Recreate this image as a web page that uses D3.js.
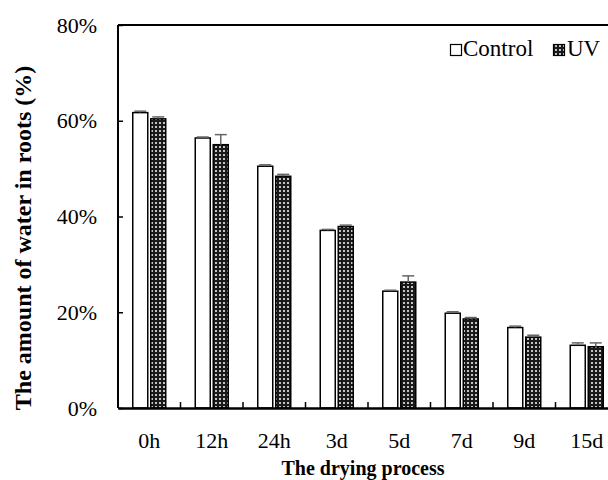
<!DOCTYPE html>
<html>
<head>
<meta charset="utf-8">
<script src="https://cdn.jsdelivr.net/npm/d3@7"></script>
<style>
  body { margin: 0; background: #fff; }
  svg text { font-family: "Liberation Serif", "Times New Roman", "DejaVu Serif", serif; fill: #000; }
</style>
</head>
<body>
<div id="chart"></div>
<script>
var categories = ["0h", "12h", "24h", "3d", "5d", "7d", "9d", "15d"];
var controlValues = [61.7, 56.4, 50.5, 37.1, 24.4, 19.8, 16.8, 13.1];
var controlErrors = [0.3, 0.2, 0.3, 0.2, 0.2, 0.3, 0.3, 0.5];
var uvValues = [60.4, 55.0, 48.4, 37.9, 26.3, 18.6, 14.8, 12.8];
var uvErrors = [0.4, 2.1, 0.4, 0.3, 1.3, 0.3, 0.4, 0.8];
var yTicks = [0, 20, 40, 60, 80];

var serif = "'Liberation Serif', 'Times New Roman', serif";
var W = 608, H = 480;
var margin = {top: 25, right: -10, bottom: 72, left: 118};
var width = W - margin.left - margin.right,
    height = H - margin.top - margin.bottom;

var svg = d3.select("#chart").append("svg")
    .attr("width", W)
    .attr("height", H)
    .attr("font-family", serif);

var defs = svg.append("defs");
var pat = defs.append("pattern")
    .attr("id", "dots")
    .attr("patternUnits", "userSpaceOnUse")
    .attr("width", 4)
    .attr("height", 4);
pat.append("rect").attr("width", 4).attr("height", 4).attr("fill", "#1a1a1a");
pat.append("rect").attr("x", 1).attr("y", 1).attr("width", 2).attr("height", 2).attr("fill", "#c4c4c4");

var g = svg.append("g")
    .attr("transform", "translate(" + margin.left + "," + margin.top + ")");

var x = d3.scaleBand().domain(categories).range([0, width]);
var y = d3.scaleLinear().domain([0, 80]).range([height, 0]);

var barW = 15, gap = 3;

// top border
g.append("line")
    .attr("x1", 0).attr("x2", width)
    .attr("y1", 0).attr("y2", 0)
    .attr("stroke", "#000").attr("stroke-width", 2);

var series = [
  {name: "Control", values: controlValues, errors: controlErrors, fill: "#fff", offset: -barW - gap / 2},
  {name: "UV", values: uvValues, errors: uvErrors, fill: "url(#dots)", offset: gap / 2}
];

series.forEach(function(s){
  var grp = g.append("g");
  var cx = function(d){ return x(d) + x.bandwidth() / 2 + s.offset + barW / 2; };

  grp.selectAll("rect")
      .data(categories)
    .enter().append("rect")
      .attr("x", function(d){ return cx(d) - barW / 2; })
      .attr("y", function(d, i){ return y(s.values[i]); })
      .attr("width", barW)
      .attr("height", function(d, i){ return height - y(s.values[i]); })
      .attr("fill", s.fill)
      .attr("stroke", "#000")
      .attr("stroke-width", 1.5);

  var err = grp.selectAll(".err")
      .data(categories)
    .enter().append("g");
  err.append("line")
      .attr("x1", cx).attr("x2", cx)
      .attr("y1", function(d, i){ return y(s.values[i]); })
      .attr("y2", function(d, i){ return y(s.values[i] + s.errors[i]); })
      .attr("stroke", "#666").attr("stroke-width", 1.5);
  err.append("line")
      .attr("x1", function(d){ return cx(d) - 6; })
      .attr("x2", function(d){ return cx(d) + 6; })
      .attr("y1", function(d, i){ return y(s.values[i] + s.errors[i]); })
      .attr("y2", function(d, i){ return y(s.values[i] + s.errors[i]); })
      .attr("stroke", "#666").attr("stroke-width", 1.5);
});

// y axis
var yAxis = g.append("g")
    .call(d3.axisLeft(y).tickValues(yTicks).tickSize(-5).tickPadding(21)
      .tickFormat(function(d){ return d + "%"; }));
yAxis.attr("font-family", serif).attr("font-size", 22);
yAxis.select(".domain").attr("stroke", "#000").attr("stroke-width", 2)
    .attr("d", "M0," + height + "V0");
yAxis.selectAll(".tick line").attr("stroke", "#000").attr("stroke-width", 1.5);

// x axis
var xAxis = g.append("g")
    .attr("transform", "translate(0," + height + ")")
    .call(d3.axisBottom(x).tickSize(0).tickPadding(24));
xAxis.attr("font-family", serif).attr("font-size", 22);
xAxis.select(".domain").attr("stroke", "#000").attr("stroke-width", 2.5);

// separator ticks between groups
g.append("g").selectAll("line")
    .data(categories.slice(1))
  .enter().append("line")
    .attr("x1", function(d){ return x(d); })
    .attr("x2", function(d){ return x(d); })
    .attr("y1", height)
    .attr("y2", height - 6)
    .attr("stroke", "#000").attr("stroke-width", 1.5);

// axis titles
svg.append("text")
    .attr("x", 363).attr("y", 475)
    .attr("text-anchor", "middle")
    .attr("font-weight", "bold")
    .attr("font-size", 20)
    .text("The drying process");

svg.append("text")
    .attr("transform", "translate(31,238) rotate(-90)")
    .attr("text-anchor", "middle")
    .attr("font-weight", "bold")
    .attr("font-size", 24)
    .text("The amount of water in roots (%)");

// legend
var legend = svg.append("g").attr("transform", "translate(450,44)");
legend.append("rect")
    .attr("x", 0.5).attr("y", 0.5).attr("width", 11).attr("height", 11)
    .attr("fill", "#fff").attr("stroke", "#000").attr("stroke-width", 1.2);
legend.append("text").attr("x", 13).attr("y", 12)
    .attr("font-size", 23).text("Control");
legend.append("rect")
    .attr("x", 103.5).attr("y", 0.5).attr("width", 11).attr("height", 11)
    .attr("fill", "url(#dots)").attr("stroke", "#000").attr("stroke-width", 1.2);
legend.append("text").attr("x", 117).attr("y", 12)
    .attr("font-size", 23).text("UV");
</script>
</body>
</html>
